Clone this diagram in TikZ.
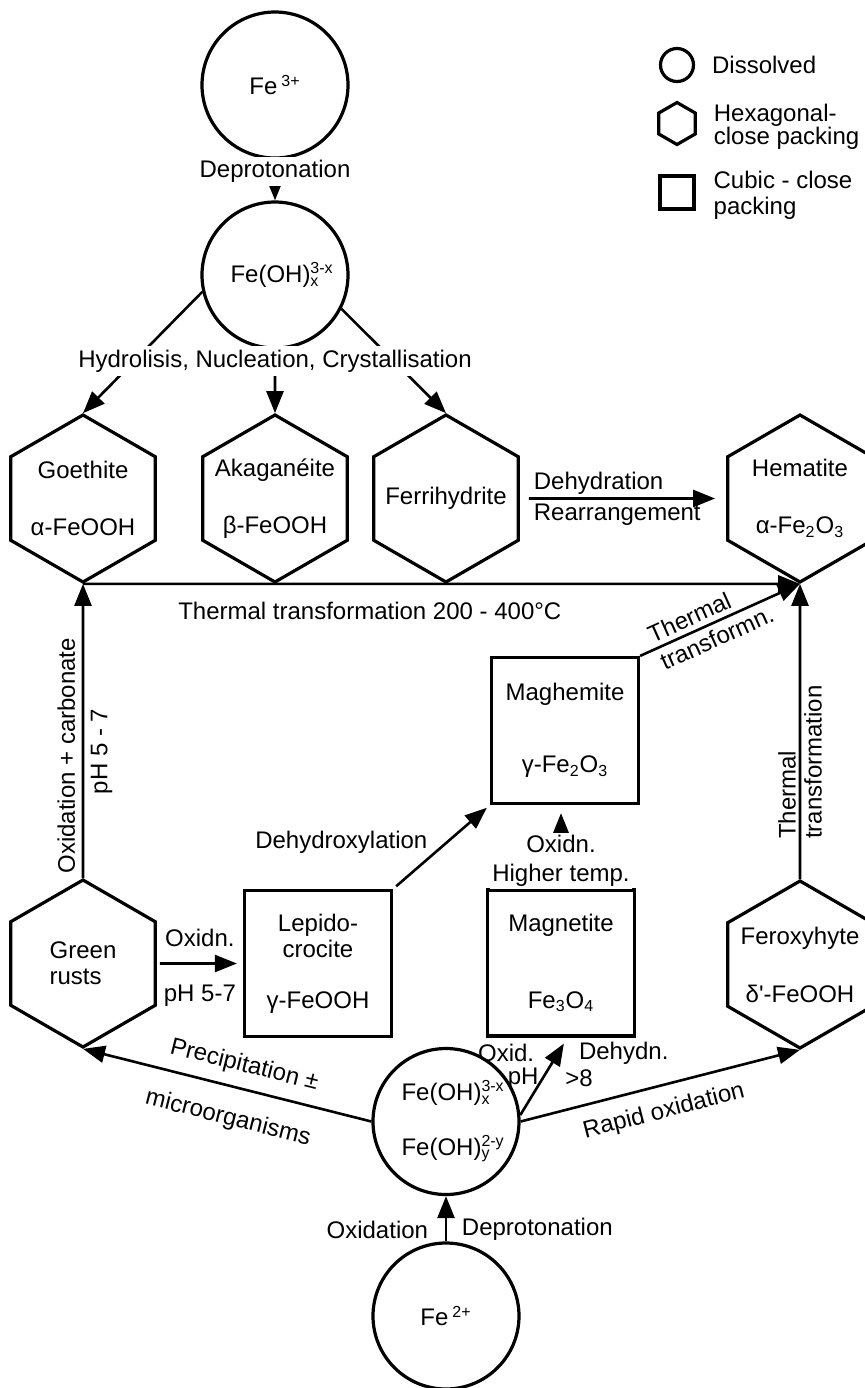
\documentclass[tikz,border=0pt]{standalone}
\usepackage{fontspec}
\setmainfont{Liberation Sans}
\usetikzlibrary{shapes.geometric, arrows.meta, positioning}
\newcommand{\ionsub}[2]{\rlap{\textsuperscript{#1}}\textsubscript{#2}}

\begin{document}
\begin{tikzpicture}[x=0.5pt, y=-0.5pt, font=\fontsize{12}{14.4}\selectfont,
    sol/.style={circle, draw, line width=1.6pt, minimum size=73pt, inner sep=0pt, align=center},
    hcp/.style={regular polygon, regular polygon sides=6, shape border rotate=30, draw, line width=1.6pt, minimum size=83.5pt, inner sep=-6pt, align=center},
    ccp/.style={rectangle, draw, line width=1.6pt, minimum width=73.5pt, minimum height=73pt, inner sep=0pt, align=center},
    conv/.style={line width=1.3pt, -{Triangle[length=11pt, width=8.5pt]}},
    mask/.style={fill=white, inner sep=1.5pt, align=center}]
    \useasboundingbox (0,0) rectangle (864,1388);
    \node[sol] (Fe3) at (275,85) {Fe\,\textsuperscript{3+}};
    \node[sol] (Fx) at (275,275) {Fe(OH)\ionsub{3-x}{x}};
    \node[hcp] (Goe) at (83,498.5) {Goethite\\[14pt]α-FeOOH};
    \node[hcp] (Aka) at (275,498.5) {Akaganéite\\[14pt]β-FeOOH};
    \node[hcp] (Fer) at (446,498.5) {Ferrihydrite};
    \node[hcp] (Hem) at (800,498.5) {Hematite\\[14pt]α-Fe\textsubscript{2}O\textsubscript{3}};
    \node[ccp] (Mgh) at (565,730.5) {Maghemite\\[21.6pt]γ-Fe\textsubscript{2}O\textsubscript{3}};
    \node[hcp, align=left] (Grn) at (83,963.5) {Green\\[-1.4pt]rusts};
    \node[ccp] (Lep) at (318,963.5) {Lepido-\\[-1.4pt]crocite\\[11pt]γ-FeOOH};
    \node[ccp] (Mgt) at (561,963) {Magnetite\\[24pt]Fe\textsubscript{3}O\textsubscript{4}};
    \node[hcp] (Fxh) at (800,964.5) {Feroxyhyte\\[14.6pt]δ\textquotesingle-FeOOH};
    \node[sol] (Fxy) at (446,1121.5) {Fe(OH)\ionsub{3-x}{x}\\[13pt]Fe(OH)\ionsub{2-y}{y}};
    \node[sol] (Fe2) at (446,1316) {Fe\,\textsuperscript{2+}};

    \node[sol, minimum size=16.5pt] (Ls) at (677,65) {};
    \node[right=5pt of Ls] (Lst) {Dissolved};
    \node[hcp, minimum size=21pt, inner sep=0pt] (Lh) at (677,123.5) {};
    \node[right=5pt of Lh, yshift=-1.5pt, align=left] (Lht) {Hexagonal-\\[-2.9pt]close packing};
    \node[ccp, minimum width=17pt, minimum height=16.5pt] (Lc) at (677,192.5) {};
    \node[right=5.5pt of Lc, yshift=-1.5pt, align=left] (Lct) {Cubic - close\\[-1.4pt]packing};

    \draw[conv] (Fe3) -- node[pos=.29, mask] (tDep) {Deprotonation} (Fx);
    \draw[conv] (Fx.193) -- (Goe.90);
    \draw[conv] (Fx) -- (Aka.90);
    \draw[conv] (Fx.-27) -- (Fer.90);
    \node[mask, inner ysep=2pt] (tHyd) at (275,361) {Hydrolisis, Nucleation, Crystallisation};
    \draw[conv] (Goe.-90) -- node[pos=.4, below=5pt] (tThm) {Thermal transformation 200 - 400°C} (Hem.-90);
    \draw[conv, shorten <=4.5pt, shorten >=5.5pt] (Fer.0) --
        node[pos=0, above right=-2pt and 3pt] (tDhy) {Dehydration}
        node[pos=0, below right=-1pt and 3pt] (tRea) {Rearrangement} (Hem.180);
    \draw[conv] (Grn.90) -- node[pos=.416, sloped, allow upside down, above] (tOxc) {Oxidation + carbonate}
        node[pos=.43, sloped, allow upside down, below] (tpH) {pH 5 - 7} (Goe.-90);
    \draw[conv, shorten <=1.5pt, shorten >=3pt] (Grn.0) -- node[above=4.5pt] (tOxd) {Oxidn.}
        node[below=7pt] (tpHb) {pH 5-7} (Lep);
    \draw[conv, shorten <=2pt, shorten >=2pt] (Lep.north east) --
        node[pos=.56, left=6pt] (tDhx) {Dehydroxylation} (Mgh.south west);
    \draw[conv] (Mgh.north east) -- node[pos=.05, sloped, anchor=west, align=left,
        font=\fontsize{12}{15}\selectfont] (tTfn) {Thermal\\transformn.} (Hem.-90);
    \draw[conv] (Fxh.90) -- node[pos=.11, sloped, allow upside down, anchor=west, align=left,
        font=\fontsize{12}{13}\selectfont] (tTft) {Thermal\\transformation} (Hem.-90);
    \draw[conv, shorten >=4pt] (Mgt.north) -- node[pos=.33, mask, inner sep=1pt] (tHig)
        {Oxidn.\\Higher temp.} (Mgt.north |- Mgh.south);
    \draw[conv] (Fxy.west) -- node[pos=.46, sloped, above=2pt] (tPre) {Precipitation ±}
        node[pos=.47, sloped, below=6.5pt] (tMic) {microorganisms} (Grn.-90);
    \draw[conv] (Fxy.east) -- node[pos=.49, sloped, below=3.5pt] (tRap) {Rapid oxidation} (Fxh.-90);
    \draw[conv, shorten >=3.5pt] (Fxy.5) -- node[pos=.8, left=8pt] (tOxi) {Oxid.}
        node[pos=.47, left=-2pt] (tpHc) {pH}
        node[pos=.8, right=6.5pt] (tDhn) {Dehydn.}
        node[pos=.47, right=7.5pt] (tGt) {>8} (Mgt.-85);
    \draw[conv] (Fe2) -- node[pos=.26, left=5pt] (tOxn) {Oxidation}
        node[pos=.26, right=4pt] (tDpr) {Deprotonation} (Fxy);
\end{tikzpicture}
\end{document}
